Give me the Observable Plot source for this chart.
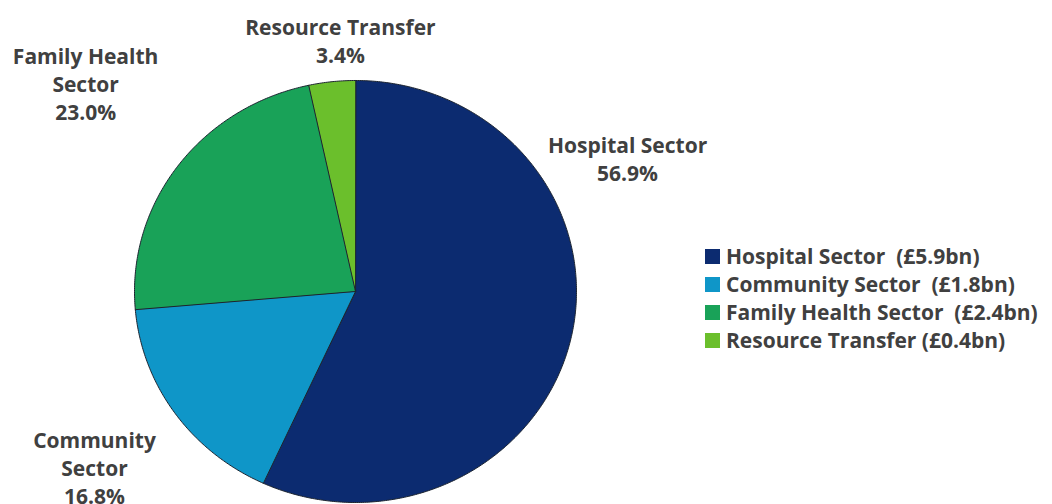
<!DOCTYPE html>
<html>
<head>
<meta charset="utf-8">
<script src="https://cdn.jsdelivr.net/npm/d3@7"></script>
<script src="https://cdn.jsdelivr.net/npm/@observablehq/plot@0.6"></script>
<style>
  html, body { margin: 0; padding: 0; background: #fff; }
  #wrap { position: relative; width: 1052px; height: 504px; overflow: hidden; }
  #legend { position: absolute; left: 705px; top: 242px; }
  .lg-swatches { margin: 0 !important; }
  .lg-swatch { height: 28px; padding-bottom: 0 !important; }
  .lg-swatch > svg { margin-right: 6px !important; }
  .lg-swatch-label { white-space: pre !important; }
</style>
</head>
<body>
<div id="wrap"><div id="chart"></div><div id="legend"></div></div>
<script>
// ---- data ----
const categories = ["Hospital Sector", "Community Sector", "Family Health Sector", "Resource Transfer"];
const shares = [56.9, 16.8, 23.0, 3.4];
const labelNames = ["Hospital Sector", "Community\nSector", "Family Health\nSector", "Resource Transfer"];
const legendLabels = ["Hospital Sector  (£5.9bn)", "Community Sector  (£1.8bn)", "Family Health Sector  (£2.4bn)", "Resource Transfer (£0.4bn)"];
const colors = ["#0c2b70", "#0f96c8", "#19a258", "#6bbf2c"];

// ---- layout (styling only) ----
const labelNudge = [[-41, -199], [1, -1], [-12, -27], [19, 53]];
const labelRadius = 1.45;
const FONT = "'Open Sans', sans-serif";

const slices = d3.pie().sort(null).value(d => d.share)(
  categories.map((c, i) => ({cat: c, share: shares[i]}))
);

const pts = [];
slices.forEach(s => {
  const key = s.data.cat;
  pts.push({key, u: 0, v: 0});
  const n = Math.max(2, Math.ceil((s.endAngle - s.startAngle) / (Math.PI / 360)));
  for (let j = 0; j <= n; j++) {
    const a = s.startAngle + (s.endAngle - s.startAngle) * j / n;
    pts.push({key, u: Math.sin(a), v: Math.cos(a)});
  }
});

const labels = slices.map((s, i) => {
  const m = (s.startAngle + s.endAngle) / 2;
  return {
    u: labelRadius * Math.sin(m),
    v: labelRadius * Math.cos(m),
    text: labelNames[i] + "\n" + shares[i].toFixed(1) + "%"
  };
});

const plot = Plot.plot({
  width: 1052,
  height: 504,
  margin: 0,
  x: {domain: [-1, 1], range: [134, 576], axis: null},
  y: {domain: [-1, 1], range: [502, 80], axis: null},
  color: {domain: categories, range: colors},
  style: {overflow: "visible", background: "#fff"},
  marks: [
    Plot.line(pts, {x: "u", y: "v", z: "key", fill: "key", stroke: "#1c2430", strokeWidth: 1, curve: "linear-closed"}),
    ...labels.map((d, i) => Plot.text([d], {
      x: "u", y: "v", text: "text",
      dx: labelNudge[i][0], dy: labelNudge[i][1],
      fontFamily: FONT, fontWeight: "bold", fontSize: 21, lineHeight: 28 / 21,
      fill: "#404040", textAnchor: "middle", lineAnchor: "middle"
    }))
  ]
});
document.getElementById("chart").appendChild(plot);

const legendMap = new Map(categories.map((c, i) => [c, legendLabels[i]]));
const legend = Plot.legend({
  color: {domain: categories, range: colors},
  legend: "swatches",
  columns: 1,
  swatchSize: 15,
  className: "lg",
  tickFormat: d => legendMap.get(d),
  style: {fontFamily: FONT, fontWeight: "bold", fontSize: "21px", color: "#404040"}
});
document.getElementById("legend").appendChild(legend);
</script>
</body>
</html>
